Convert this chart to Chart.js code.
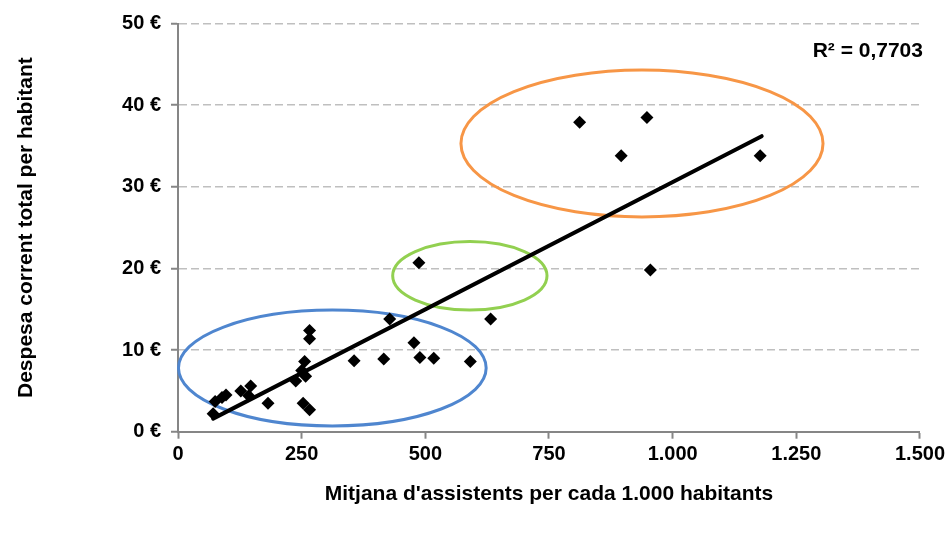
<!DOCTYPE html>
<html>
<head>
<meta charset="utf-8">
<script src="https://cdn.jsdelivr.net/npm/chart.js@4/dist/chart.umd.min.js"></script>
<style>
  html, body { margin: 0; padding: 0; background: #fff; }
  #wrap { width: 949px; height: 534px; }
</style>
</head>
<body>
<div id="wrap"><canvas id="chart" width="949" height="534"></canvas></div>
<script>
"use strict";

// attendees per 1,000 inhabitants (x) and current spend per inhabitant (y)
const assistents = [75, 71, 89, 97, 127, 147, 143, 182, 266, 266, 256, 250, 238, 258, 253, 266,
                    356, 416, 428, 477, 489, 517, 591, 632, 487, 812, 948, 896, 1177, 955];
const despesa = [3.7, 2.2, 4.2, 4.5, 5.0, 5.6, 4.4, 3.5, 12.4, 11.4, 8.6, 7.5, 6.2, 6.8, 3.5, 2.7,
                 8.7, 8.9, 13.8, 10.9, 9.1, 9.0, 8.6, 13.8, 20.7, 37.9, 38.5, 33.8, 33.8, 19.8];

// linear trendline end points
const trendX = [71, 1180];
const trendY = [1.6, 36.2];
const rSquared = "R² = 0,7703";

// highlighted groups: centre x, centre y, radius x, radius y (data units)
const groupNames = ["baix", "mig", "alt"];
const groupCx = [312, 590, 938];
const groupCy = [7.8, 19.1, 35.3];
const groupRx = [311, 156, 366];
const groupRy = [7.1, 4.2, 9.0];
const groupColors = ["#4f86cf", "#92d050", "#f79646"];

const yTicks = [0, 10, 20, 30, 40, 50];
const xTicks = [0, 250, 500, 750, 1000, 1250, 1500];

const FONT = "'Liberation Sans', Arial, sans-serif";
const AXIS = "#868686";

// "1000" -> "1.000"
const fmt = v => String(v).replace(/\B(?=(\d{3})+(?!\d))/g, ".");

const ellipses = {
    id: "ellipses",
    beforeDatasetsDraw(chart) {
        const {ctx, scales: {x, y}} = chart;
        ctx.save();
        groupNames.forEach((_, i) => {
            const cx = x.getPixelForValue(groupCx[i]);
            const cy = y.getPixelForValue(groupCy[i]);
            const rx = Math.abs(x.getPixelForValue(groupCx[i] + groupRx[i]) - cx);
            const ry = Math.abs(y.getPixelForValue(groupCy[i] + groupRy[i]) - cy);
            ctx.beginPath();
            ctx.ellipse(cx, cy, rx, ry, 0, 0, Math.PI * 2);
            ctx.lineWidth = 3;
            ctx.strokeStyle = groupColors[i];
            ctx.stroke();
        });
        ctx.restore();
    }
};

const r2label = {
    id: "r2label",
    afterDraw(chart) {
        const {ctx, chartArea} = chart;
        ctx.save();
        ctx.font = "bold 21px " + FONT;
        ctx.fillStyle = "#000";
        ctx.textAlign = "right";
        ctx.textBaseline = "middle";
        ctx.fillText(rSquared, chartArea.right + 3, 51);
        ctx.restore();
    }
};

new Chart(document.getElementById("chart"), {
    data: {
        datasets: [{
            type: "line",
            label: "Tendència",
            data: trendX.map((v, i) => ({x: v, y: trendY[i]})),
            borderColor: "#000",
            borderWidth: 4,
            borderCapStyle: "round",
            pointRadius: 0,
            order: 0
        }, {
            type: "scatter",
            label: "Municipis",
            data: assistents.map((v, i) => ({x: v, y: despesa[i]})),
            pointStyle: "rectRot",
            pointRadius: 6.5,
            pointHoverRadius: 6.5,
            backgroundColor: "#000",
            borderColor: "#000",
            borderWidth: 0,
            order: 1
        }]
    },
    options: {
        responsive: false,
        devicePixelRatio: 1,
        animation: false,
        layout: {padding: {left: 0, right: 29, top: 23.5, bottom: 0}},
        plugins: {legend: {display: false}, tooltip: {enabled: false}},
        scales: {
            x: {
                type: "linear",
                min: 0, max: 1500,
                afterBuildTicks: s => { s.ticks = xTicks.map(v => ({value: v})); },
                afterFit: s => { s.height = 102.3; },
                ticks: {
                    callback: v => fmt(v),
                    color: "#000",
                    padding: 4,
                    maxRotation: 0,
                    font: {family: FONT, size: 20, weight: "bold"}
                },
                grid: {drawOnChartArea: false, drawTicks: true, tickLength: 7, tickColor: AXIS, tickWidth: 2},
                border: {color: AXIS, width: 2},
                title: {
                    display: true,
                    text: "Mitjana d'assistents per cada 1.000 habitants",
                    color: "#000",
                    font: {family: FONT, size: 21, weight: "bold"},
                    padding: {top: 0, bottom: 27}
                }
            },
            y: {
                type: "linear",
                min: 0, max: 50,
                afterBuildTicks: s => { s.ticks = yTicks.map(v => ({value: v})); },
                afterFit: s => { s.width = 178; },
                ticks: {
                    callback: v => v + " €",
                    color: "#000",
                    padding: 10,
                    font: {family: FONT, size: 20, weight: "bold"}
                },
                grid: {
                    color: c => (c.tick && c.tick.value === 0) ? "rgba(0,0,0,0)" : "#bfbfbf",
                    lineWidth: 1.5,
                    tickLength: 7,
                    tickColor: AXIS,
                    tickWidth: 2
                },
                border: {color: AXIS, width: 2, dash: [8, 4]},
                title: {
                    display: true,
                    text: "Despesa corrent total per habitant",
                    color: "#000",
                    font: {family: FONT, size: 21, weight: "bold"},
                    padding: {top: 14, bottom: 0}
                }
            }
        }
    },
    plugins: [ellipses, r2label]
});
</script>
</body>
</html>
